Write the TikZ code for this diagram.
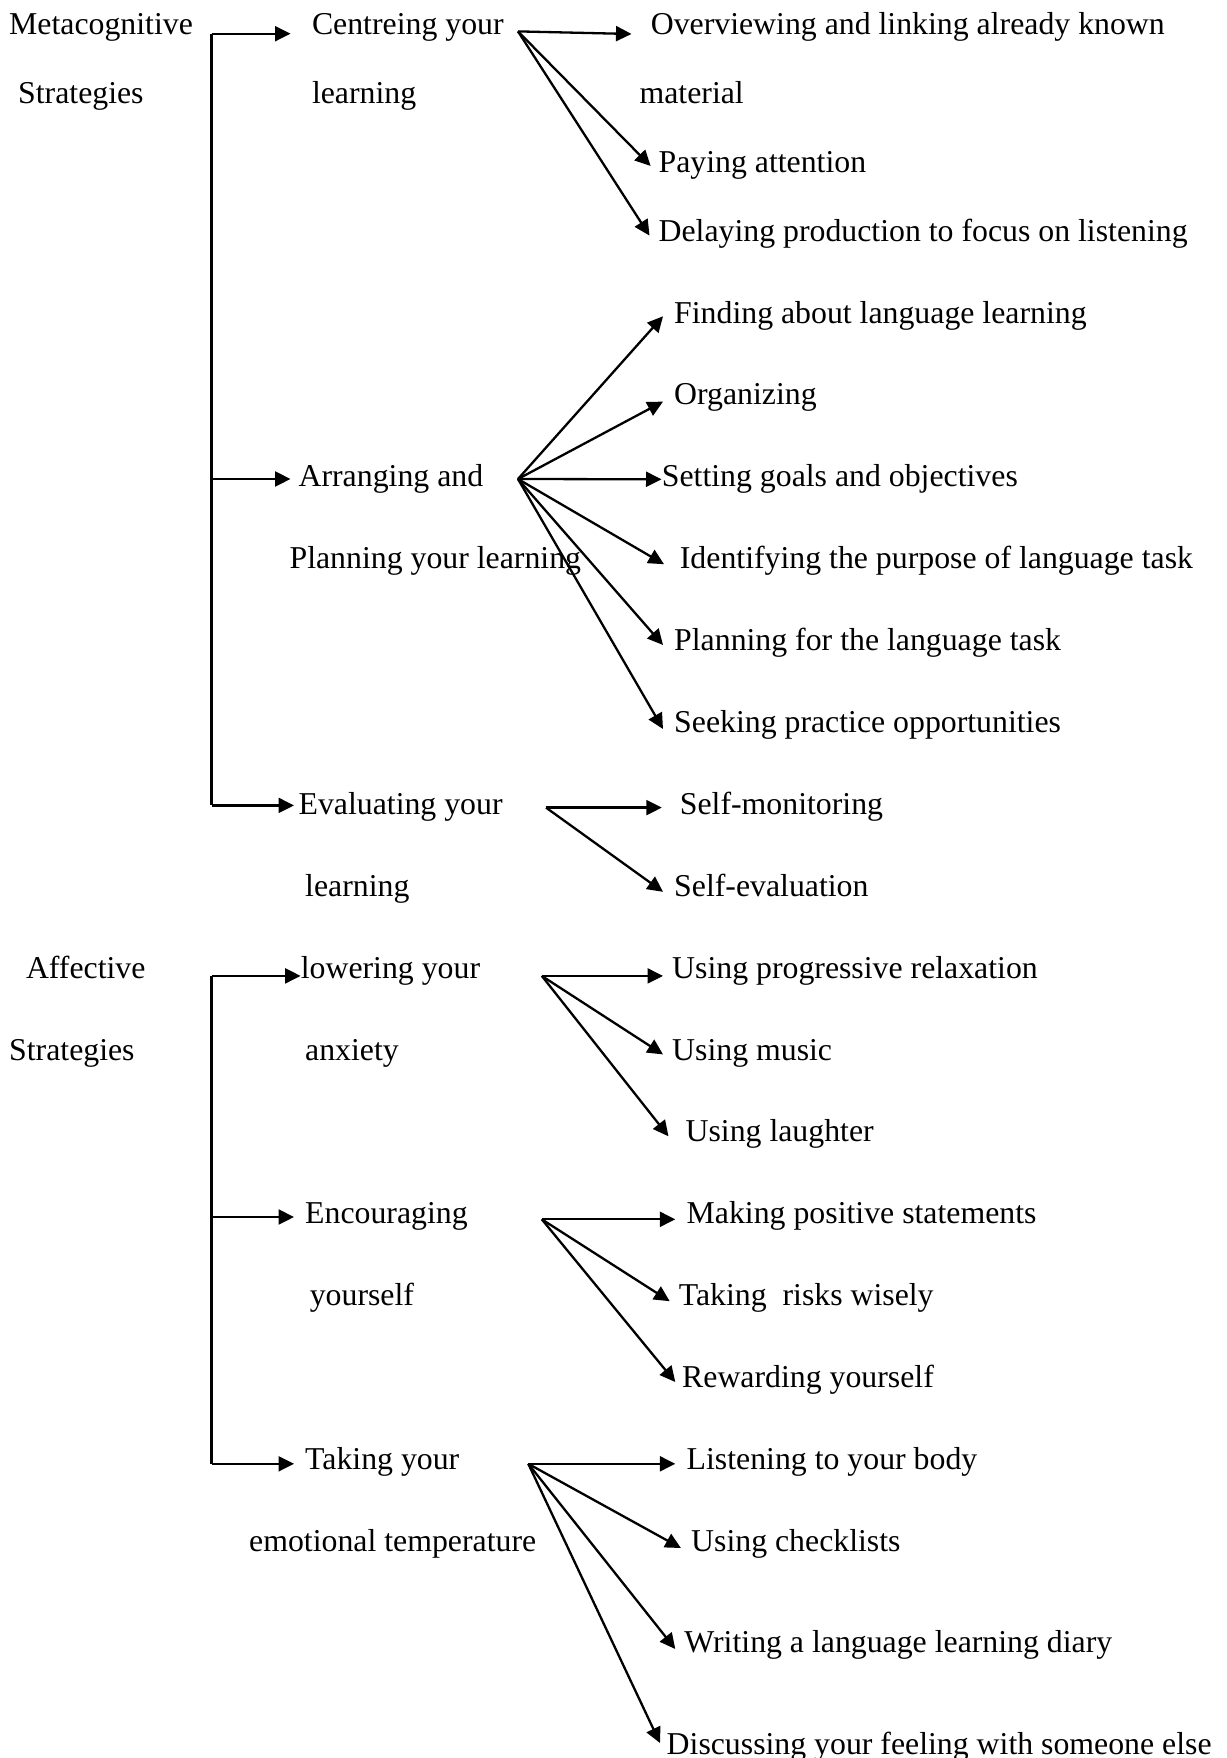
\documentclass[tikz,border=0pt]{standalone}
\usepackage{fontspec}
\setmainfont{Liberation Serif}
\usetikzlibrary{arrows.meta}
\begin{document}
\begin{tikzpicture}[x=1pt,y=-1pt,
  lbl/.style={anchor=base west, inner sep=0pt, font=\fontsize{31.8}{36}\selectfont},
  conn/.style={line width=2.3pt, -{Triangle[length=15.5pt,width=15pt]}},
  plainline/.style={line width=2.3pt}]
\useasboundingbox (0,0) rectangle (1226,1758);
% left column
\node[lbl] (meta1) at (9,34.7) {Metacognitive};
\node[lbl] (meta2) at (18,103.1) {Strategies};
\node[lbl] (aff1) at (25.8,978) {Affective};
\node[lbl] (aff2) at (9,1060) {Strategies};
% middle column
\node[lbl] (cen1) at (311.8,34.7) {Centreing your};
\node[lbl] (cen2) at (311.8,103.1) {learning};
\node[lbl] (arr1) at (298.4,486.7) {Arranging and};
\node[lbl] (arr2) at (289.4,568.6) {Planning your learning};
\node[lbl] (eva1) at (298.4,814.3) {Evaluating your};
\node[lbl] (eva2) at (305,896.1) {learning};
\node[lbl] (low1) at (300.6,978) {lowering your};
\node[lbl] (low2) at (305,1060) {anxiety};
\node[lbl] (enc1) at (305,1223.7) {Encouraging};
\node[lbl] (enc2) at (309.6,1305.5) {yourself};
\node[lbl] (tak1) at (305,1469.3) {Taking your};
\node[lbl] (tak2) at (249,1551.2) {emotional temperature};
% right column
\node[lbl] (r1) at (650.6,34.7) {Overviewing and linking already known};
\node[lbl] (r1b) at (639.4,103.1) {material};
\node[lbl] (r2) at (658.4,172.6) {Paying attention};
\node[lbl] (r3) at (658.4,241.1) {Delaying production to focus on listening};
\node[lbl] (r4) at (674,323) {Finding about language learning};
\node[lbl] (r5) at (674,404.8) {Organizing};
\node[lbl] (r6) at (661.7,486.7) {Setting goals and objectives};
\node[lbl] (r7) at (679.7,568.6) {Identifying the purpose of language task};
\node[lbl] (r8) at (674,650.5) {Planning for the language task};
\node[lbl] (r9) at (674,732.4) {Seeking practice opportunities};
\node[lbl] (r10) at (679.7,814.3) {Self-monitoring};
\node[lbl] (r11) at (674,896.1) {Self-evaluation};
\node[lbl] (r12) at (672,978) {Using progressive relaxation};
\node[lbl] (r13) at (672,1060) {Using music};
\node[lbl] (r14) at (685.4,1141.8) {Using laughter};
\node[lbl] (r15) at (686.5,1223.7) {Making positive statements};
\node[lbl] (r16) at (678.6,1305.5) {Taking\ \ risks wisely};
\node[lbl] (r17) at (682,1387.5) {Rewarding yourself};
\node[lbl] (r18) at (686.5,1469.3) {Listening to your body};
\node[lbl] (r19) at (691,1551.2) {Using checklists};
\node[lbl] (r20) at (684.2,1652.2) {Writing a language learning diary};
\node[lbl] (r21) at (666.5,1754) {Discussing your feeling with someone else};
% bracket coordinates
\coordinate (bA) at (211.5,33.7);
\coordinate (bB) at (211.5,479);
\coordinate (bC) at (211.5,805.4);
\coordinate (bD) at (211.5,975.9);
\coordinate (bE) at (211.5,1217);
\coordinate (bF) at (211.5,1463.8);
\coordinate (tA) at (290.5,33.7);
\coordinate (tB) at (290.5,479);
\coordinate (tC) at (294,805.4);
\coordinate (tD) at (300.6,975.9);
\coordinate (tE) at (294,1217);
\coordinate (tF) at (294,1463.8);
\draw[plainline] (bA) -- (bC);
\draw[plainline] (bD) -- (bF);
\draw[conn] (bA) -- (tA);
\draw[conn] (bB) -- (tB);
\draw[conn] (bC) -- (tC);
\draw[conn] (bD) -- (tD);
\draw[conn] (bE) -- (tE);
\draw[conn] (bF) -- (tF);
% hubs
\coordinate (hCen) at (518,31.4);
\coordinate (hArr) at (518,479);
\coordinate (hEva) at (546,807.6);
\coordinate (hLow) at (541.8,975.9);
\coordinate (hEnc) at (541.8,1219.3);
\coordinate (hTak) at (528.3,1463.8);
% tips
\coordinate (p1) at (631.5,34);
\coordinate (p2) at (650.6,166);
\coordinate (p3) at (649.5,235.6);
\coordinate (p4) at (663,316.3);
\coordinate (p5) at (663,401.6);
\coordinate (p6) at (661.5,479.3);
\coordinate (p7) at (664,564.2);
\coordinate (p8) at (663,645);
\coordinate (p9) at (663,729);
\coordinate (p10) at (661.8,807.6);
\coordinate (p11) at (663,891.8);
\coordinate (p12) at (663,975.9);
\coordinate (p13) at (663,1054.4);
\coordinate (p14) at (668.5,1136.3);
\coordinate (p15) at (675.3,1219.3);
\coordinate (p16) at (669.7,1301.2);
\coordinate (p17) at (675.3,1382);
\coordinate (p18) at (675.3,1463.8);
\coordinate (p19) at (680.9,1548);
\coordinate (p20) at (675.3,1649);
\coordinate (p21) at (660,1743);
\foreach \t in {p1,p2,p3} \draw[conn] (hCen) -- (\t);
\foreach \t in {p4,p5,p6,p7,p8,p9} \draw[conn] (hArr) -- (\t);
\foreach \t in {p10,p11} \draw[conn] (hEva) -- (\t);
\foreach \t in {p12,p13,p14} \draw[conn] (hLow) -- (\t);
\foreach \t in {p15,p16,p17} \draw[conn] (hEnc) -- (\t);
\foreach \t in {p18,p19,p20,p21} \draw[conn] (hTak) -- (\t);
\end{tikzpicture}
\end{document}
